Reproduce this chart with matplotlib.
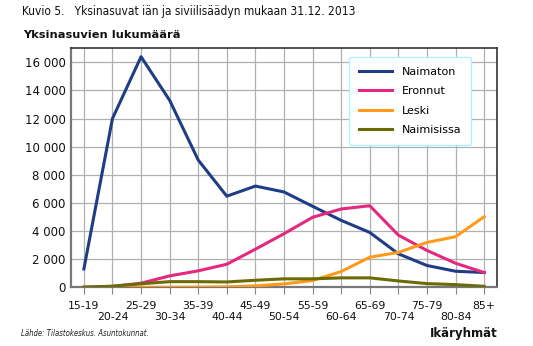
import matplotlib
matplotlib.use("Agg")
import matplotlib.pyplot as plt
from matplotlib.lines import Line2D
from matplotlib import font_manager

# Ikäryhmät ja yksinasuvien lukumäärä siviilisäädyn mukaan
age_groups = ["15-19", "20-24", "25-29", "30-34", "35-39", "40-44", "45-49",
              "50-54", "55-59", "60-64", "65-69", "70-74", "75-79", "80-84", "85+"]
naimaton = [1300, 12000, 16400, 13300, 9050, 6480, 7200, 6780, 5760, 4760,
            3900, 2380, 1550, 1140, 1050]
eronnut = [0, 60, 290, 810, 1170, 1640, 2710, 3810, 4980, 5570,
           5800, 3710, 2620, 1710, 1050]
leski = [0, 0, 0, 0, 10, 30, 100, 240, 480, 1120,
         2140, 2480, 3190, 3600, 5020]
naimisissa = [10, 80, 250, 400, 400, 380, 500, 600, 600, 670,
              670, 450, 260, 190, 70]

series = [
    ("Naimaton", naimaton, "#1f3d85"),
    ("Eronnut", eronnut, "#e5287f"),
    ("Leski", leski, "#ff9a1c"),
    ("Naimisissa", naimisissa, "#6b6b00"),
]
y_ticks = list(range(0, 16001, 2000))

fig = plt.figure(figsize=(5.33, 3.46), dpi=100)
ax = fig.add_axes([0.1332, 0.1697, 0.7993, 0.6907])

x = list(range(len(age_groups)))
for name, vals, color in series:
    ax.plot(x, vals, color=color, lw=2.2, label=name, solid_joinstyle="round",
            zorder=3)

ax.set_xlim(-0.45, 14.45)
ax.set_ylim(0, 17000)
ax.set_yticks(y_ticks)
ax.set_yticklabels([f"{v:,}".replace(",", " ") for v in y_ticks], fontsize=8.5,
                   color="#111111")
ax.set_xticks(x)
# alternate labels on two rows
ax.set_xticklabels([lab if i % 2 == 0 else "\n" + lab for i, lab in enumerate(age_groups)],
                   fontsize=7.8, color="#111111", linespacing=1.05)
ax.tick_params(axis="x", length=5, width=0.8, color="#888888", pad=5)
ax.tick_params(axis="y", length=0, pad=4)
ax.grid(True, color="#b0b0b0", lw=0.9, zorder=0)

for side in ["top", "right"]:
    ax.spines[side].set_color("#333333")
    ax.spines[side].set_linewidth(1.2)
for side in ["left", "bottom"]:
    ax.spines[side].set_color("#777777")
    ax.spines[side].set_linewidth(1.6)

handles = [Line2D([0], [0], color=c, lw=2.2) for _, _, c in series]
leg = ax.legend(handles, [s[0] for s in series], loc="upper right",
                bbox_to_anchor=(0.94, 0.965), fontsize=8, frameon=True,
                fancybox=True, edgecolor="#aef2ff", framealpha=1,
                handlelength=3.0, handletextpad=0.9, labelspacing=0.85,
                borderpad=0.9, borderaxespad=0)
leg.get_frame().set_linewidth(1.0)

# condensed face for the header and the source note
cond = font_manager.FontProperties(family="DejaVu Sans", stretch="condensed", size=8.6)
cond_it = font_manager.FontProperties(family="DejaVu Sans", stretch="condensed",
                                      style="oblique", size=5.6)
fig.text(22 / 533, 1 - 11 / 346, "Kuvio 5.   Yksinasuvat iän ja siviilisäädyn mukaan 31.12. 2013",
         fontproperties=cond, va="center", ha="left", color="#111111")
fig.text(23 / 533, 1 - 35 / 346, "Yksinasuvien lukumäärä", fontsize=8.2,
         fontweight="bold", va="center", ha="left", color="#111111")
fig.text(21 / 533, 1 - 333 / 346, "Lähde: Tilastokeskus. Asuntokunnat.",
         fontproperties=cond_it, va="center", ha="left", color="#222222")
fig.text(498 / 533, 1 - 333 / 346, "Ikäryhmät", fontsize=8.5, fontweight="bold",
         va="center", ha="right", color="#111111")

fig.savefig("out.png", dpi=100)
